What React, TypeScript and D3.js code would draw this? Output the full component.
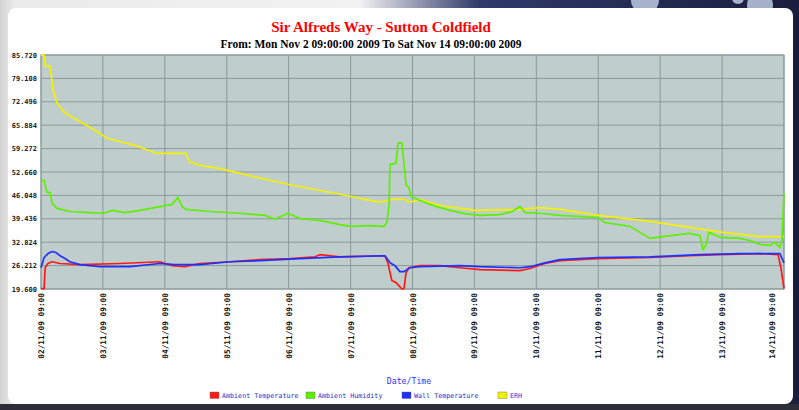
import React from "react";
import * as d3 from "d3";

// ---- Data (hours since Mon Nov 2 09:00 2009, value) ----
const dayLabels = [
  "02/11/09 09:00", "03/11/09 09:00", "04/11/09 09:00", "05/11/09 09:00",
  "06/11/09 09:00", "07/11/09 09:00", "08/11/09 09:00", "09/11/09 09:00",
  "10/11/09 09:00", "11/11/09 09:00", "12/11/09 09:00", "13/11/09 09:00",
  "14/11/09 09:00",
];
const yTickLabels = [
  "85.720", "79.108", "72.496", "65.884", "59.272", "52.660",
  "46.048", "39.436", "32.824", "26.212", "19.600",
];
const yMin = 19.6;
const yMax = 85.72;
const totalHours = 288;

const ambientTemperature: [number, number][] = [
  [0, 19.7], [1.2, 19.7], [1.6, 25.6], [2.7, 26.8], [4.3, 27.3], [7.4, 26.8],
  [15.1, 26.5], [30.6, 26.8], [46.1, 27.3], [50.8, 26.2], [55.8, 25.9],
  [61.6, 26.8], [73.3, 27.3], [84.9, 27.9], [96.5, 28.2], [106.2, 28.7],
  [108.1, 29.3], [115.9, 28.7], [133.3, 29.0], [134.5, 26.8], [136.0, 22.0],
  [137.6, 21.4], [138.8, 20.5], [139.9, 19.6], [140.7, 19.7], [141.5, 24.2],
  [142.6, 25.6], [146.9, 26.2], [154.7, 26.2], [162.4, 25.6], [170.2, 25.1],
  [185.7, 24.8], [189.5, 25.4], [195.3, 26.8], [201.2, 27.6], [215.9, 28.2],
  [236.1, 28.5], [251.5, 29.0], [263.2, 29.3], [278.7, 29.6], [285.7, 29.3],
  [286.8, 25.6], [288, 19.7],
];
const ambientHumidity: [number, number][] = [
  [0, 50.3], [1.2, 50.3], [2.3, 46.9], [3.5, 46.9], [4.3, 43.8], [6.2, 42.4],
  [11.2, 41.5], [19.0, 41.2], [24.0, 41.0], [27.9, 41.8], [32.6, 41.2],
  [38.4, 41.8], [46.1, 42.9], [50.8, 43.5], [53.1, 45.5], [54.7, 42.9],
  [56.2, 42.1], [65.5, 41.5], [77.1, 41.0], [86.8, 40.4], [90.7, 39.3],
  [95.7, 41.0], [100.4, 39.5], [108.1, 39.0], [115.9, 37.8], [119.8, 37.3],
  [127.5, 37.5], [132.9, 37.3], [134.1, 38.4], [134.9, 43.2], [135.3, 54.8],
  [137.6, 55.1], [138.4, 60.8], [139.9, 60.8], [140.7, 55.1], [141.5, 48.9],
  [142.6, 48.3], [143.4, 45.8], [146.9, 44.6], [150.8, 43.5], [154.7, 42.6],
  [158.5, 41.8], [164.3, 40.9], [170.2, 40.4], [177.9, 40.6], [182.6, 41.5],
  [185.7, 42.9], [187.6, 41.2], [193.4, 41.0], [201.2, 40.4], [215.9, 39.8],
  [218.6, 38.4], [228.3, 37.3], [236.1, 33.9], [243.8, 34.7], [251.5, 35.3],
  [255.4, 34.7], [256.6, 30.7], [257.8, 32.1], [258.9, 35.6], [263.2, 34.2],
  [270.9, 33.9], [274.8, 33.3], [278.7, 32.2], [282.6, 31.9], [284.5, 32.8],
  [286.4, 31.3], [287.2, 33.3], [288, 46.6],
];
const wallTemperature: [number, number][] = [
  [0, 25.6], [1.2, 28.5], [2.7, 29.6], [4.3, 30.2], [5.8, 29.9], [7.4, 29.0],
  [9.3, 28.2], [11.2, 27.3], [15.1, 26.5], [22.9, 25.9], [34.5, 25.9],
  [46.1, 26.8], [51.9, 26.5], [61.6, 26.5], [73.3, 27.3], [84.9, 27.6],
  [100.4, 28.2], [115.9, 28.7], [133.3, 29.0], [135.3, 27.0], [137.2, 26.2],
  [139.1, 24.5], [140.7, 24.5], [143.0, 25.6], [146.9, 25.9], [162.4, 26.2],
  [170.2, 25.9], [185.7, 25.6], [189.5, 25.9], [195.3, 27.0], [201.2, 27.9],
  [215.9, 28.5], [236.1, 28.7], [255.4, 29.3], [270.9, 29.6], [286.4, 29.6],
  [288, 27.0],
];
const erh: [number, number][] = [
  [0, 85.7], [1.2, 85.7], [1.6, 82.6], [3.5, 82.6], [4.7, 75.8], [6.2, 72.1],
  [9.3, 69.3], [19.0, 65.3], [24.0, 63.0], [25.6, 62.2], [36.4, 60.2],
  [45.0, 57.9], [56.2, 57.9], [57.4, 55.7], [61.2, 54.6], [69.0, 53.7],
  [72.1, 53.1], [95.7, 49.2], [119.8, 45.8], [131.4, 44.1], [136.0, 44.9],
  [141.1, 44.9], [143.0, 44.1], [146.9, 44.9], [154.7, 43.2], [168.2, 41.8],
  [185.7, 42.1], [193.4, 42.6], [201.2, 42.1], [215.9, 40.4], [236.1, 38.7],
  [264.3, 35.6], [278.7, 34.4], [288, 34.4],
];

const seriesNames = ["Ambient Temperature", "Ambient Humidity", "Wall Temperature", "ERH"];
const seriesColors = ["#ff1a1a", "#5cf000", "#1e32ff", "#f2f200"];
const seriesData = [ambientTemperature, ambientHumidity, wallTemperature, erh];
const drawOrder = [3, 1, 0, 2];

export default function App() {
  const W = 799, H = 410;
  const left = 41, right = 784, top = 55, bottom = 289;
  const x = d3.scaleLinear().domain([0, totalHours]).range([left, right]);
  const y = d3.scaleLinear().domain([yMin, yMax]).range([bottom, top]);
  const line = d3.line<[number, number]>()
    .x((d) => x(d[0]))
    .y((d) => y(Math.max(yMin, d[1])))
    .curve(d3.curveLinear);
  const yTicks = yTickLabels.map((_, i) => yMax - (i * (yMax - yMin)) / 10);
  const xTicks = dayLabels.map((_, i) => i * 24);
  const mono = "'DejaVu Sans Mono', monospace";
  const serif = "'Liberation Serif', 'Times New Roman', serif";

  return (
    <svg width={W} height={H} style={{ position: "absolute", left: 0, top: 0 }}>
      <defs>
        <linearGradient id="bgGrad" x1="0" y1="0" x2="1" y2="0">
          <stop offset="0" stopColor="#d4d4d4" />
          <stop offset="0.02" stopColor="#ebebeb" />
          <stop offset="0.45" stopColor="#f2f2f2" />
          <stop offset="0.6" stopColor="#2f3a6a" />
          <stop offset="1" stopColor="#1a1e3c" />
        </linearGradient>
      </defs>
      <rect x={0} y={0} width={W} height={H} fill="url(#bgGrad)" />
      <circle cx={645} cy={0} r={14} fill="#c8d4ec" opacity={0.8} />
      <circle cx={760} cy={5} r={13} fill="#c8d4ec" opacity={0.8} />
      <circle cx={738} cy={-2} r={6} fill="#c8d4ec" opacity={0.8} />
      <rect x={0} y={404} width={W} height={6} fill="#2b2d38" />
      <rect x={8} y={8} width={785} height={396} rx={8} fill="#ffffff" />

      <text x={381} y={32} textAnchor="middle" fill="#ff0000" fontFamily={serif}
        fontWeight="bold" fontSize={15}>Sir Alfreds Way - Sutton Coldfield</text>
      <text x={371} y={48} textAnchor="middle" fill="#000" fontFamily={serif}
        fontWeight="bold" fontSize={11.5}>From: Mon Nov 2 09:00:00 2009 To Sat Nov 14 09:00:00 2009</text>

      <rect x={left} y={top} width={right - left} height={bottom - top} fill="#c0cdcd" />
      {yTicks.map((t, i) => (
        <line key={"gy" + i} x1={left} x2={right} y1={y(t)} y2={y(t)} stroke="#8a9999" strokeWidth={1} />
      ))}
      {xTicks.map((t, i) => (
        <line key={"gx" + i} x1={x(t)} x2={x(t)} y1={top} y2={bottom} stroke="#8a9999" strokeWidth={1} />
      ))}
      <rect x={left} y={top} width={right - left} height={bottom - top} fill="none" stroke="#8a9999" />

      {drawOrder.map((si) => (
        <path key={"s" + si} d={line(seriesData[si]) || ""} fill="none"
          stroke={seriesColors[si]} strokeWidth={1.7} strokeLinejoin="round" />
      ))}

      {yTicks.map((t, i) => (
        <text key={"yl" + i} x={37} y={y(t) + 2.5} textAnchor="end" fontFamily={mono}
          fontWeight="bold" fontSize={7} fill="#222">{yTickLabels[i]}</text>
      ))}
      {xTicks.map((t, i) => {
        const px = Math.min(x(t), 772) + 3;
        return (
          <text key={"xl" + i} transform={`translate(${px},${bottom + 4}) rotate(-90)`}
            textAnchor="end" fontFamily={mono} fontWeight="bold" fontSize={7.8} fill="#111">
            {dayLabels[i]}
          </text>
        );
      })}

      <text x={409} y={384} textAnchor="middle" fontFamily={mono} fontSize={8.2}
        fill="#3030ff">Date/Time</text>

      {seriesNames.map((n, i) => (
        <g key={"lg" + i} transform={`translate(${210 + i * 96},392)`}>
          <rect x={0} y={0} width={9} height={6.5} fill={seriesColors[i]} stroke="#666" strokeWidth={0.4} />
          <text x={12} y={6} fontFamily={mono} fontSize={6.7} fill="#2a2acc">{n}</text>
        </g>
      ))}
    </svg>
  );
}
